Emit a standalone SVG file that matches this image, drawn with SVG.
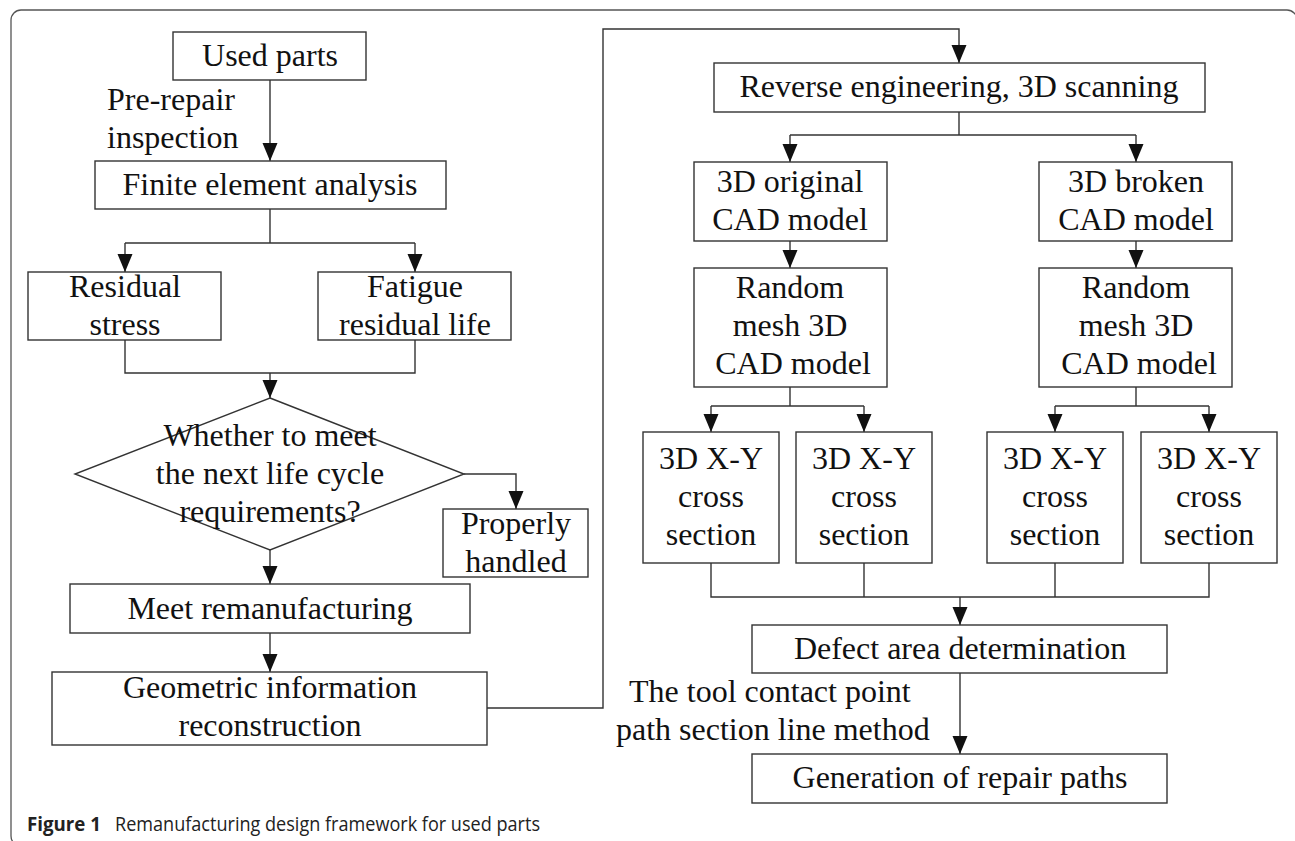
<svg xmlns="http://www.w3.org/2000/svg" width="1295" height="841" viewBox="0 0 1295 841">
  <style>
    .box { fill: #ffffff; stroke: #333333; stroke-width: 1.4; }
    .wire { fill: none; stroke: #333333; stroke-width: 1.4; }
    .lbl { font-family: "Liberation Serif", "Times New Roman", serif; font-size: 32px; fill: #111111; text-anchor: middle; }
    .note { font-family: "Liberation Serif", "Times New Roman", serif; font-size: 32px; fill: #111111; }
    .cap { font-family: "Open Sans", "Noto Sans", sans-serif; font-size: 20px; fill: #222222; }
  </style>
  <defs>
    <marker id="arrow" markerUnits="userSpaceOnUse" markerWidth="19" markerHeight="16" refX="18" refY="7.5" orient="auto">
      <path d="M0,0 L18,7.5 L0,15 z" fill="#111111"/>
    </marker>
  </defs>

  <rect width="1295" height="841" fill="#ffffff"/>
  <!-- figure frame -->
  <rect x="11" y="10" width="1286" height="836" rx="10" ry="10" fill="none" stroke="#555555" stroke-width="1.3"/>

  <!-- connectors -->
  <g id="connectors" class="wire">
    <path d="M270,80 V161" marker-end="url(#arrow)"/>
    <path d="M270,209 V243"/>
    <path d="M125,243 H415"/>
    <path d="M125,243 V272" marker-end="url(#arrow)"/>
    <path d="M415,243 V272" marker-end="url(#arrow)"/>
    <path d="M125,340 V373 H415 V340"/>
    <path d="M270,373 V398" marker-end="url(#arrow)"/>
    <path d="M464,474 H516 V509" marker-end="url(#arrow)"/>
    <path d="M270,550 V584" marker-end="url(#arrow)"/>
    <path d="M270,633 V672" marker-end="url(#arrow)"/>
    <path d="M487,708 H603 V29 H959 V63" marker-end="url(#arrow)"/>
    <path d="M959,112 V135"/>
    <path d="M790,135 H1136"/>
    <path d="M790,135 V162" marker-end="url(#arrow)"/>
    <path d="M1136,135 V162" marker-end="url(#arrow)"/>
    <path d="M790,241 V268" marker-end="url(#arrow)"/>
    <path d="M1136,241 V268" marker-end="url(#arrow)"/>
    <path d="M790,387 V406"/>
    <path d="M711,406 H864"/>
    <path d="M711,406 V432" marker-end="url(#arrow)"/>
    <path d="M864,406 V432" marker-end="url(#arrow)"/>
    <path d="M1136,387 V406"/>
    <path d="M1055,406 H1209"/>
    <path d="M1055,406 V432" marker-end="url(#arrow)"/>
    <path d="M1209,406 V432" marker-end="url(#arrow)"/>
    <path d="M711,563 V597 H1209 V563"/>
    <path d="M864,563 V597"/>
    <path d="M1055,563 V597"/>
    <path d="M960,597 V625" marker-end="url(#arrow)"/>
    <path d="M960,673 V754" marker-end="url(#arrow)"/>
  </g>

  <!-- edge labels -->
  <g id="edge-labels">
    <text class="note" x="107" y="110">Pre-repair</text>
    <text class="note" x="107" y="148">inspection</text>
    <text class="note" x="629" y="702">The tool contact point</text>
    <text class="note" x="616" y="740">path section line method</text>
  </g>

  <!-- left column -->
  <g id="used-parts">
    <rect class="box" x="173" y="32" width="193" height="48"/>
    <text class="lbl" x="270" y="66">Used parts</text>
  </g>
  <g id="fea">
    <rect class="box" x="95" y="161" width="351" height="48"/>
    <text class="lbl" x="270" y="195">Finite element analysis</text>
  </g>
  <g id="residual-stress">
    <rect class="box" x="28" y="272" width="193" height="68"/>
    <text class="lbl" x="125" y="297">Residual</text>
    <text class="lbl" x="125" y="335">stress</text>
  </g>
  <g id="fatigue-life">
    <rect class="box" x="318" y="272" width="193" height="68"/>
    <text class="lbl" x="415" y="297">Fatigue</text>
    <text class="lbl" x="415" y="335">residual life</text>
  </g>
  <g id="decision">
    <path class="box" d="M270,398 L464,474 L270,550 L75,474 Z" style="fill:none"/>
    <text class="lbl" x="270" y="446">Whether to meet</text>
    <text class="lbl" x="270" y="484">the next life cycle</text>
    <text class="lbl" x="270" y="522">requirements?</text>
  </g>
  <g id="properly-handled">
    <rect class="box" x="443" y="509" width="145" height="68"/>
    <text class="lbl" x="516" y="534">Properly</text>
    <text class="lbl" x="516" y="572">handled</text>
  </g>
  <g id="meet-reman">
    <rect class="box" x="70" y="584" width="400" height="49"/>
    <text class="lbl" x="270" y="619">Meet remanufacturing</text>
  </g>
  <g id="geometric-recon">
    <rect class="box" x="52" y="672" width="435" height="73"/>
    <text class="lbl" x="270" y="698">Geometric information</text>
    <text class="lbl" x="270" y="736">reconstruction</text>
  </g>

  <!-- right column -->
  <g id="reverse-eng">
    <rect class="box" x="714" y="63" width="491" height="49"/>
    <text class="lbl" x="959" y="97">Reverse engineering, 3D scanning</text>
  </g>
  <g id="cad-original">
    <rect class="box" x="694" y="162" width="193" height="79"/>
    <text class="lbl" x="790" y="192">3D original</text>
    <text class="lbl" x="790" y="230">CAD model</text>
  </g>
  <g id="cad-broken">
    <rect class="box" x="1039" y="162" width="193" height="79"/>
    <text class="lbl" x="1136" y="192">3D broken</text>
    <text class="lbl" x="1136" y="230">CAD model</text>
  </g>
  <g id="mesh-original">
    <rect class="box" x="694" y="268" width="193" height="119"/>
    <text class="lbl" x="790" y="298">Random</text>
    <text class="lbl" x="790" y="336">mesh 3D</text>
    <text class="lbl" x="793" y="374">CAD model</text>
  </g>
  <g id="mesh-broken">
    <rect class="box" x="1039" y="268" width="193" height="119"/>
    <text class="lbl" x="1136" y="298">Random</text>
    <text class="lbl" x="1136" y="336">mesh 3D</text>
    <text class="lbl" x="1139" y="374">CAD model</text>
  </g>
  <g id="section-1">
    <rect class="box" x="643" y="432" width="136" height="131"/>
    <text class="lbl" x="711" y="469">3D X-Y</text>
    <text class="lbl" x="711" y="507">cross</text>
    <text class="lbl" x="711" y="545">section</text>
  </g>
  <g id="section-2">
    <rect class="box" x="796" y="432" width="136" height="131"/>
    <text class="lbl" x="864" y="469">3D X-Y</text>
    <text class="lbl" x="864" y="507">cross</text>
    <text class="lbl" x="864" y="545">section</text>
  </g>
  <g id="section-3">
    <rect class="box" x="987" y="432" width="136" height="131"/>
    <text class="lbl" x="1055" y="469">3D X-Y</text>
    <text class="lbl" x="1055" y="507">cross</text>
    <text class="lbl" x="1055" y="545">section</text>
  </g>
  <g id="section-4">
    <rect class="box" x="1141" y="432" width="136" height="131"/>
    <text class="lbl" x="1209" y="469">3D X-Y</text>
    <text class="lbl" x="1209" y="507">cross</text>
    <text class="lbl" x="1209" y="545">section</text>
  </g>
  <g id="defect-area">
    <rect class="box" x="752" y="625" width="415" height="48"/>
    <text class="lbl" x="960" y="659">Defect area determination</text>
  </g>
  <g id="repair-paths">
    <rect class="box" x="752" y="754" width="415" height="49"/>
    <text class="lbl" x="960" y="788">Generation of repair paths</text>
  </g>

  <!-- caption -->
  <text class="cap" y="831"><tspan x="27" font-weight="bold" textLength="74" lengthAdjust="spacingAndGlyphs">Figure 1</tspan><tspan x="115" textLength="425" lengthAdjust="spacingAndGlyphs">Remanufacturing design framework for used parts</tspan></text>
</svg>
